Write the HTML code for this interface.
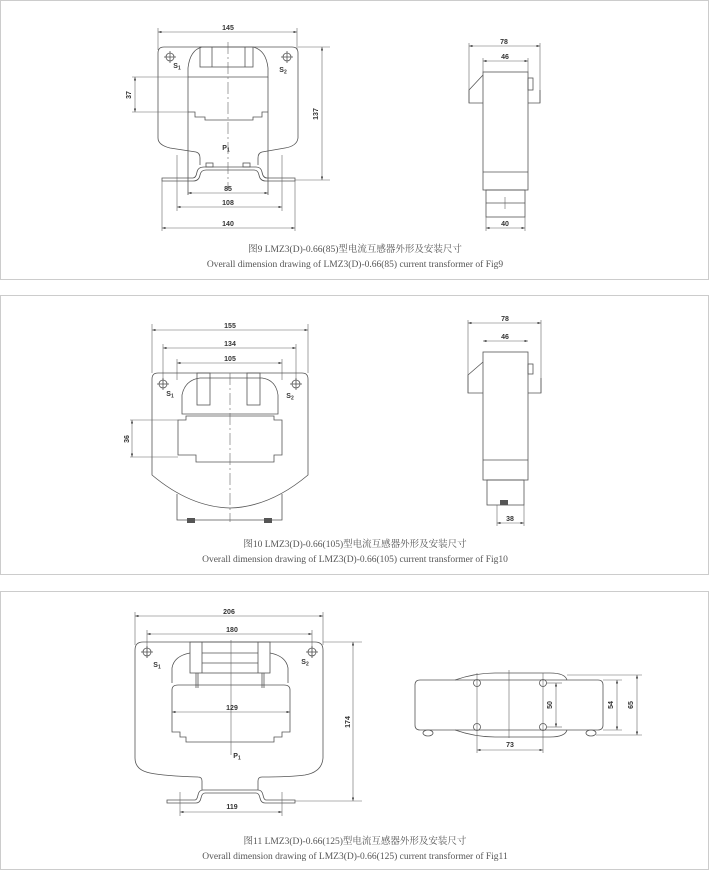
<!DOCTYPE html>
<html><head><meta charset="utf-8"><style>
body{margin:0;background:#fff;width:709px;height:871px;overflow:hidden}
svg{display:block}
.l{stroke:#555;stroke-width:0.8;fill:none}
.t{stroke:#666;stroke-width:0.6;fill:none}
.d{font-family:"Liberation Sans",sans-serif;font-size:7px;font-weight:bold;fill:#333;text-anchor:middle}
.c{font-family:"Liberation Serif","Noto Serif CJK SC",serif;font-size:9.5px;fill:#555;text-anchor:middle}
</style></head><body>
<svg width="709" height="871" viewBox="0 0 709 871">
<defs><marker id="a" markerWidth="6" markerHeight="4" refX="6" refY="2" orient="auto-start-reverse"><path d="M0,0L6,2L0,4z" fill="#444"/></marker></defs>
<rect x="0.5" y="0.5" width="708" height="279" fill="none" stroke="#ccc"/>
<rect x="0.5" y="295.5" width="708" height="279" fill="none" stroke="#ccc"/>
<rect x="0.5" y="591.5" width="708" height="278" fill="none" stroke="#ccc"/>

<!-- ===== Fig 9 front ===== -->
<line class="t" x1="158" y1="32" x2="297" y2="32" marker-start="url(#a)" marker-end="url(#a)"/><text class="d" x="228" y="30">145</text>
<line class="t" x1="158" y1="28" x2="158" y2="50"/><line class="t" x1="297" y1="28" x2="297" y2="50"/>
<path class="l" d="M164,47 H292 Q298,47 298,53 V138 Q297,146 285,148 L262,152 Q258,153 258,158 V165 M200,165 V158 Q200,153 196,152 L170,148 Q158,145 158,138 V53 Q158,47 164,47"/>
<path class="l" d="M188,77 V68 Q190,50 202,47 M253,47 Q266,50 268,68 V77 H188"/>
<rect class="l" x="200" y="47" width="53" height="20"/>
<line class="l" x1="212" y1="47" x2="212" y2="67"/><line class="l" x1="245" y1="47" x2="245" y2="67"/>
<path class="l" d="M188,77 V195 M268,77 V195 M188,112 H195 V117 H205 V120 H253 V117 H262 V112 H268"/>
<path class="l" d="M162,178 H193 Q196,178 197,172 Q198,167 204,167 H256 Q261,167 262,172 Q263,178 267,178 H295 V181 H266 Q260,181 259,175 Q258,170 254,170 H206 Q201,170 200,175 Q199,181 193,181 H162 Z"/>
<rect class="l" x="206" y="163" width="7" height="4"/><rect class="l" x="243" y="163" width="7" height="4"/>
<line class="t" x1="228" y1="42" x2="228" y2="190" stroke-dasharray="12,3,2,3"/>
<circle class="l" cx="170" cy="57" r="4"/><line class="l" x1="170" y1="51" x2="170" y2="63"/><line class="l" x1="164" y1="57" x2="176" y2="57"/>
<circle class="l" cx="287" cy="57" r="4"/><line class="l" x1="287" y1="51" x2="287" y2="63"/><line class="l" x1="281" y1="57" x2="293" y2="57"/>
<text class="d" x="177" y="68">S<tspan font-size="5" dy="1.5">1</tspan></text><text class="d" x="283" y="72">S<tspan font-size="5" dy="1.5">2</tspan></text><text class="d" x="226" y="150">P<tspan font-size="5" dy="1.5">1</tspan></text>
<line class="t" x1="132" y1="77" x2="188" y2="77"/><line class="t" x1="132" y1="112" x2="188" y2="112"/>
<line class="t" x1="135" y1="77" x2="135" y2="112" marker-start="url(#a)" marker-end="url(#a)"/><text class="d" x="131" y="95" transform="rotate(-90 131 95)">37</text>
<line class="t" x1="298" y1="47" x2="330" y2="47"/><line class="t" x1="295" y1="180" x2="330" y2="180"/>
<line class="t" x1="322" y1="47" x2="322" y2="180" marker-start="url(#a)" marker-end="url(#a)"/><text class="d" x="318" y="114" transform="rotate(-90 318 114)">137</text>
<line class="t" x1="188" y1="193" x2="268" y2="193" marker-start="url(#a)" marker-end="url(#a)"/><text class="d" x="228" y="191">85</text>
<line class="t" x1="177" y1="155" x2="177" y2="211"/><line class="t" x1="282" y1="155" x2="282" y2="211"/>
<line class="t" x1="177" y1="207" x2="282" y2="207" marker-start="url(#a)" marker-end="url(#a)"/><text class="d" x="228" y="205">108</text>
<line class="t" x1="162" y1="181" x2="162" y2="231"/><line class="t" x1="295" y1="181" x2="295" y2="231"/>
<line class="t" x1="162" y1="228" x2="295" y2="228" marker-start="url(#a)" marker-end="url(#a)"/><text class="d" x="228" y="226">140</text>

<!-- ===== Fig 9 side ===== -->
<line class="t" x1="469" y1="46" x2="540" y2="46" marker-start="url(#a)" marker-end="url(#a)"/><text class="d" x="504" y="44">78</text>
<line class="t" x1="469" y1="43" x2="469" y2="103"/><line class="t" x1="540" y1="43" x2="540" y2="103"/>
<line class="t" x1="483" y1="61" x2="528" y2="61" marker-start="url(#a)" marker-end="url(#a)"/><text class="d" x="505" y="59">46</text>
<line class="t" x1="483" y1="58" x2="483" y2="72"/><line class="t" x1="528" y1="58" x2="528" y2="72"/>
<rect class="l" x="483" y="72" width="45" height="118"/>
<line class="l" x1="483" y1="172" x2="528" y2="172"/>
<path class="l" d="M483,75 L469,90 V103 H483 M528,103 H540 V90"/>
<rect class="l" x="528" y="78" width="5" height="12"/>
<rect class="l" x="486" y="190" width="39" height="27"/>
<line class="l" x1="486" y1="203" x2="525" y2="203"/><line class="t" x1="505" y1="197" x2="505" y2="209"/>
<line class="t" x1="486" y1="217" x2="486" y2="231"/><line class="t" x1="525" y1="217" x2="525" y2="231"/>
<line class="t" x1="486" y1="228" x2="525" y2="228" marker-start="url(#a)" marker-end="url(#a)"/><text class="d" x="505" y="226">40</text>
<text class="c" x="355" y="252">图9 LMZ3(D)-0.66(85)型电流互感器外形及安装尺寸</text>
<text class="c" x="355" y="267">Overall dimension drawing of LMZ3(D)-0.66(85) current transformer of Fig9</text>

<!-- ===== Fig 10 front ===== -->
<line class="t" x1="152" y1="330" x2="308" y2="330" marker-start="url(#a)" marker-end="url(#a)"/><text class="d" x="230" y="328">155</text>
<line class="t" x1="152" y1="324" x2="152" y2="373"/><line class="t" x1="308" y1="324" x2="308" y2="373"/>
<line class="t" x1="163" y1="348" x2="296" y2="348" marker-start="url(#a)" marker-end="url(#a)"/><text class="d" x="230" y="346">134</text>
<line class="t" x1="163" y1="344" x2="163" y2="385"/><line class="t" x1="296" y1="344" x2="296" y2="385"/>
<line class="t" x1="177" y1="363" x2="282" y2="363" marker-start="url(#a)" marker-end="url(#a)"/><text class="d" x="230" y="361">105</text>
<line class="t" x1="177" y1="359" x2="177" y2="380"/><line class="t" x1="282" y1="359" x2="282" y2="380"/>
<path class="l" d="M158,373 H302 Q308,373 308,379 V475 Q270,507 230,508 Q190,507 152,475 V379 Q152,373 158,373z"/>
<path class="l" d="M177,494 V520 H282 V494"/>
<path class="l" d="M182,414 V395 Q185,380 200,378 H262 Q276,380 278,395 V414 Z"/>
<rect class="l" x="197" y="373" width="13" height="32"/><rect class="l" x="247" y="373" width="13" height="32"/>
<path class="l" d="M178,455 V420 H186 V416 H274 V420 H282 V455 H274 V462 H196 V455 Z"/>
<line class="t" x1="230" y1="373" x2="230" y2="522" stroke-dasharray="12,3,2,3"/>
<circle class="l" cx="163" cy="384" r="4"/><line class="l" x1="163" y1="378" x2="163" y2="390"/><line class="l" x1="157" y1="384" x2="169" y2="384"/>
<circle class="l" cx="296" cy="384" r="4"/><line class="l" x1="296" y1="378" x2="296" y2="390"/><line class="l" x1="290" y1="384" x2="302" y2="384"/>
<text class="d" x="170" y="396">S<tspan font-size="5" dy="1.5">1</tspan></text><text class="d" x="290" y="398">S<tspan font-size="5" dy="1.5">2</tspan></text>
<rect x="187" y="518" width="8" height="5" fill="#555"/><rect x="264" y="518" width="8" height="5" fill="#555"/>
<line class="t" x1="130" y1="420" x2="178" y2="420"/><line class="t" x1="130" y1="457" x2="178" y2="457"/>
<line class="t" x1="132" y1="420" x2="132" y2="457" marker-start="url(#a)" marker-end="url(#a)"/><text class="d" x="129" y="439" transform="rotate(-90 129 439)">36</text>
<!-- Fig10 side -->
<line class="t" x1="468" y1="323" x2="541" y2="323" marker-start="url(#a)" marker-end="url(#a)"/><text class="d" x="505" y="321">78</text>
<line class="t" x1="468" y1="320" x2="468" y2="393"/><line class="t" x1="541" y1="320" x2="541" y2="393"/>
<line class="t" x1="483" y1="341" x2="528" y2="341" marker-start="url(#a)" marker-end="url(#a)"/><text class="d" x="505" y="339">46</text>
<rect class="l" x="483" y="352" width="45" height="128"/>
<line class="l" x1="483" y1="460" x2="528" y2="460"/>
<path class="l" d="M483,362 L468,375 V393 H483 M528,393 H541 V378"/>
<rect class="l" x="528" y="364" width="5" height="10"/>
<rect class="l" x="487" y="480" width="37" height="25"/>
<rect x="500" y="500" width="8" height="5" fill="#555"/>
<line class="t" x1="497" y1="505" x2="497" y2="526"/><line class="t" x1="524" y1="505" x2="524" y2="526"/>
<line class="t" x1="497" y1="523" x2="524" y2="523" marker-start="url(#a)" marker-end="url(#a)"/><text class="d" x="510" y="521">38</text>
<text class="c" x="355" y="547">图10 LMZ3(D)-0.66(105)型电流互感器外形及安装尺寸</text>
<text class="c" x="355" y="562">Overall dimension drawing of LMZ3(D)-0.66(105) current transformer of Fig10</text>

<!-- ===== Fig 11 front ===== -->
<line class="t" x1="135" y1="616" x2="323" y2="616" marker-start="url(#a)" marker-end="url(#a)"/><text class="d" x="229" y="614">206</text>
<line class="t" x1="135" y1="612" x2="135" y2="645"/><line class="t" x1="323" y1="612" x2="323" y2="645"/>
<line class="t" x1="147" y1="634" x2="312" y2="634" marker-start="url(#a)" marker-end="url(#a)"/><text class="d" x="232" y="632">180</text>
<line class="t" x1="147" y1="630" x2="147" y2="658"/><line class="t" x1="312" y1="630" x2="312" y2="658"/>
<path class="l" d="M143,642 H315 Q323,642 323,650 V758 Q322,772 305,775 Q290,777 262,777 Q258,777 258,781 V790 M202,790 V781 Q202,777 198,777 Q165,776 150,773 Q135,770 135,758 V650 Q135,642 143,642"/>
<path class="l" d="M167,800 H195 Q197,800 198,795 Q199,790 203,790 H258 Q262,790 263,795 Q264,800 266,800 H295 V803 H265 Q261,803 260,798 Q259,793 256,793 H205 Q202,793 201,798 Q200,803 196,803 H167 Z"/>
<path class="l" d="M172,683 V668 Q174,656 190,653 M270,653 Q286,656 288,668 V683"/>
<rect class="l" x="190" y="642" width="80" height="31"/>
<line class="l" x1="202" y1="642" x2="202" y2="673"/><line class="l" x1="258" y1="642" x2="258" y2="673"/>
<line class="l" x1="202" y1="653" x2="258" y2="653"/><line class="l" x1="202" y1="663" x2="258" y2="663"/>
<path class="l" d="M196,673 V688 M198,673 V688 M262,673 V688 M264,673 V688"/>
<path class="l" d="M172,690 V732 H180 V737 H186 V742 H274 V737 H282 V732 H290 V690 Q290,685 284,685 H178 Q172,685 172,690z"/>
<line class="t" x1="231" y1="640" x2="231" y2="755"/>
<circle class="l" cx="147" cy="652" r="4"/><line class="l" x1="147" y1="646" x2="147" y2="658"/><line class="l" x1="141" y1="652" x2="153" y2="652"/>
<circle class="l" cx="312" cy="652" r="4"/><line class="l" x1="312" y1="646" x2="312" y2="658"/><line class="l" x1="306" y1="652" x2="318" y2="652"/>
<text class="d" x="157" y="667">S<tspan font-size="5" dy="1.5">1</tspan></text><text class="d" x="305" y="664">S<tspan font-size="5" dy="1.5">2</tspan></text><text class="d" x="237" y="758">P<tspan font-size="5" dy="1.5">1</tspan></text>
<line class="t" x1="172" y1="712" x2="290" y2="712" marker-start="url(#a)" marker-end="url(#a)"/><text class="d" x="232" y="710">129</text>
<line class="t" x1="323" y1="642" x2="362" y2="642"/><line class="t" x1="295" y1="801" x2="362" y2="801"/>
<line class="t" x1="353" y1="642" x2="353" y2="801" marker-start="url(#a)" marker-end="url(#a)"/><text class="d" x="350" y="722" transform="rotate(-90 350 722)">174</text>
<line class="t" x1="180" y1="792" x2="180" y2="816"/><line class="t" x1="282" y1="792" x2="282" y2="816"/>
<line class="t" x1="180" y1="812" x2="282" y2="812" marker-start="url(#a)" marker-end="url(#a)"/><text class="d" x="232" y="809">119</text>
<!-- Fig11 side -->
<path class="l" d="M420,680 H598 Q603,680 603,685 V725 Q603,730 598,730 H420 Q415,730 415,725 V685 Q415,680 420,680z"/>
<path class="l" d="M455,680 Q475,673 495,673 H550 Q565,673 567,680 M455,730 Q475,737 495,737 H550 Q565,737 567,730"/>
<line class="t" x1="509" y1="670" x2="509" y2="738"/>
<circle class="l" cx="477" cy="683" r="3.5"/><circle class="l" cx="543" cy="683" r="3.5"/>
<circle class="l" cx="477" cy="727" r="3.5"/><circle class="l" cx="543" cy="727" r="3.5"/>
<line class="t" x1="477" y1="673" x2="477" y2="753"/><line class="t" x1="543" y1="673" x2="543" y2="753"/>
<ellipse class="l" cx="428" cy="733" rx="5" ry="3"/><ellipse class="l" cx="591" cy="733" rx="5" ry="3"/>
<line class="t" x1="477" y1="750" x2="543" y2="750" marker-start="url(#a)" marker-end="url(#a)"/><text class="d" x="510" y="747">73</text>
<line class="t" x1="546" y1="683" x2="562" y2="683"/><line class="t" x1="546" y1="727" x2="562" y2="727"/>
<line class="t" x1="556" y1="683" x2="556" y2="727" marker-start="url(#a)" marker-end="url(#a)"/><text class="d" x="552" y="705" transform="rotate(-90 552 705)">50</text>
<line class="t" x1="603" y1="680" x2="622" y2="680"/><line class="t" x1="603" y1="730" x2="622" y2="730"/>
<line class="t" x1="617" y1="680" x2="617" y2="730" marker-start="url(#a)" marker-end="url(#a)"/><text class="d" x="613" y="705" transform="rotate(-90 613 705)">54</text>
<line class="t" x1="567" y1="675" x2="642" y2="675"/><line class="t" x1="596" y1="735" x2="642" y2="735"/>
<line class="t" x1="637" y1="675" x2="637" y2="735" marker-start="url(#a)" marker-end="url(#a)"/><text class="d" x="633" y="705" transform="rotate(-90 633 705)">65</text>
<text class="c" x="355" y="844">图11 LMZ3(D)-0.66(125)型电流互感器外形及安装尺寸</text>
<text class="c" x="355" y="859">Overall dimension drawing of LMZ3(D)-0.66(125) current transformer of Fig11</text>
</svg>
</body></html>
